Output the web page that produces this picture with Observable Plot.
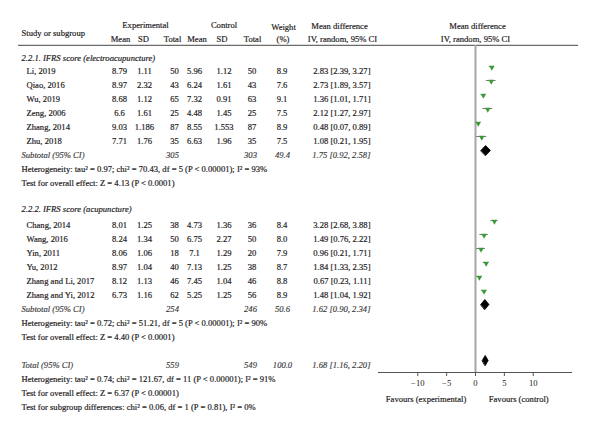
<!DOCTYPE html>
<html><head><meta charset="utf-8">
<script src="https://cdn.jsdelivr.net/npm/d3@7"></script>
<script src="https://cdn.jsdelivr.net/npm/@observablehq/plot@0.6"></script>
<style>body{margin:0;background:#fff;}</style>
</head><body><div id="chart"></div>
<script>
// ---------- data ----------
const g1Label = "2.2.1. IFRS score (electroacupuncture)";
const g1Studies = ["Li, 2019", "Qiao, 2016", "Wu, 2019", "Zeng, 2006", "Zhang, 2014", "Zhu, 2018"];
const g1ExpMean = [8.79, 8.97, 8.68, 6.6, 9.03, 7.71];
const g1ExpSD   = [1.11, 2.32, 1.12, 1.61, 1.186, 1.76];
const g1ExpN    = [50, 43, 65, 25, 87, 35];
const g1CtlMean = [5.96, 6.24, 7.32, 4.48, 8.55, 6.63];
const g1CtlSD   = [1.12, 1.61, 0.91, 1.45, 1.553, 1.96];
const g1CtlN    = [50, 43, 63, 25, 87, 35];
const g1Weight  = [8.9, 7.6, 9.1, 7.5, 8.9, 7.5];
const g1MD      = [2.83, 2.73, 1.36, 2.12, 0.48, 1.08];
const g1Lo      = [2.39, 1.89, 1.01, 1.27, 0.07, 0.21];
const g1Hi      = [3.27, 3.57, 1.71, 2.97, 0.89, 1.95];

const g2Label = "2.2.2. IFRS score (acupuncture)";
const g2Studies = ["Chang, 2014", "Wang, 2016", "Yin, 2011", "Yu, 2012", "Zhang and Li, 2017", "Zhang and Yi, 2012"];
const g2ExpMean = [8.01, 8.24, 8.06, 8.97, 8.12, 6.73];
const g2ExpSD   = [1.25, 1.34, 1.06, 1.04, 1.13, 1.16];
const g2ExpN    = [38, 50, 18, 40, 46, 62];
const g2CtlMean = [4.73, 6.75, 7.1, 7.13, 7.45, 5.25];
const g2CtlSD   = [1.36, 2.27, 1.29, 1.25, 1.04, 1.25];
const g2CtlN    = [36, 50, 20, 38, 46, 56];
const g2Weight  = [8.4, 8.0, 7.9, 8.7, 8.8, 8.9];
const g2MD      = [3.28, 1.49, 0.96, 1.84, 0.67, 1.48];
const g2Lo      = [2.68, 0.76, 0.21, 1.33, 0.23, 1.04];
const g2Hi      = [3.88, 2.22, 1.71, 2.35, 1.11, 1.92];

const pooledLabels = ["Subtotal (95% CI)", "Subtotal (95% CI)", "Total (95% CI)"];
const pooledExpN   = [305, 254, 559];
const pooledCtlN   = [303, 246, 549];
const pooledWeight = [49.4, 50.6, 100.0];
const pooledMD     = [1.75, 1.62, 1.68];
const pooledLo     = [0.92, 0.90, 1.16];
const pooledHi     = [2.58, 2.34, 2.20];

const g1Stats = ["Heterogeneity: tau² = 0.97; chi² = 70.43, df = 5 (P < 0.00001); I² = 93%",
                 "Test for overall effect: Z = 4.13 (P < 0.0001)"];
const g2Stats = ["Heterogeneity: tau² = 0.72; chi² = 51.21, df = 5 (P < 0.00001); I² = 90%",
                 "Test for overall effect: Z = 4.40 (P < 0.0001)"];
const totStats = ["Heterogeneity: tau² = 0.74; chi² = 121.67, df = 11 (P < 0.00001); I² = 91%",
                  "Test for overall effect: Z = 6.37 (P < 0.00001)",
                  "Test for subgroup differences: chi² = 0.06, df = 1 (P = 0.81), I² = 0%"];

const xTicks = [-10, -5, 0, 5, 10];
const favourLabels = ["Favours (experimental)", "Favours (control)"];

// ---------- layout (rows) ----------
const g1Rows = [0, 1, 2, 3, 4, 5];
const g2Rows = [11, 12, 13, 14, 15, 16];
const pooledRows = [6, 17, 21];
const groupHeaderRows = [-0.95, 9.85];
const statsRows = [7, 8, 18, 19, 22, 23, 24];

const f2 = d => d.toFixed(2);
const mdText = (m, l, h) => `${f2(m)} [${f2(l)}, ${f2(h)}]`;

const studies = [];
[[g1Studies, g1ExpMean, g1ExpSD, g1ExpN, g1CtlMean, g1CtlSD, g1CtlN, g1Weight, g1MD, g1Lo, g1Hi, g1Rows],
 [g2Studies, g2ExpMean, g2ExpSD, g2ExpN, g2CtlMean, g2CtlSD, g2CtlN, g2Weight, g2MD, g2Lo, g2Hi, g2Rows]]
.forEach(([s, em, es, en, cm, cs, cn, w, md, lo, hi, rows]) => {
  s.forEach((name, i) => studies.push({
    name, em: String(em[i]), es: String(es[i]), en: String(en[i]),
    cm: String(cm[i]), cs: String(cs[i]), cn: String(cn[i]),
    w: w[i].toFixed(1), md: md[i], lo: lo[i], hi: hi[i],
    ci: mdText(md[i], lo[i], hi[i]), row: rows[i]
  }));
});
const pooled = pooledLabels.map((label, i) => ({
  label, en: String(pooledExpN[i]), cn: String(pooledCtlN[i]), w: pooledWeight[i].toFixed(1),
  md: pooledMD[i], lo: pooledLo[i], hi: pooledHi[i],
  ci: mdText(pooledMD[i], pooledLo[i], pooledHi[i]), row: pooledRows[i]
}));
const groupHeaders = [g1Label, g2Label].map((label, i) => ({label, row: groupHeaderRows[i]}));
const stats = [...g1Stats, ...g2Stats, ...totStats].map((label, i) => ({label, row: statsRows[i]}));

// diamond polygons
const DH = 0.36; // half-height in row units
const diamonds = [];
pooled.forEach((p, i) => {
  diamonds.push({id: i, x: p.lo, y: p.row});
  diamonds.push({id: i, x: p.md, y: p.row - DH});
  diamonds.push({id: i, x: p.hi, y: p.row});
  diamonds.push({id: i, x: p.md, y: p.row + DH});
});

// ---------- drawing ----------
const FONT = "'Liberation Serif', 'Times New Roman', serif";
const FS = 8.6;
const INK = "#1c1a1b";
const X0 = 18;
const HEAD_LINE = -1.86;
const AXIS_ROW = 21.5;
const XMIN = -16.8, XMAX = 16.8;
const bold = {stroke: INK, strokeWidth: 0.18};

function col(data, text, px, anchor = "middle", extra = {}) {
  return Plot.text(data, {y: "row", text, frameAnchor: "left", dx: px - X0,
    textAnchor: anchor, fontSize: FS, fill: INK, ...bold, ...extra});
}
function head(label, px, row, anchor = "middle") {
  return Plot.text([label], {y: () => row, text: d => d, frameAnchor: "left", dx: px - X0,
    textAnchor: anchor, fontSize: FS, fill: INK, ...bold});
}
const it = {fontStyle: "italic"};
const pooledStyle = {fontStyle: "italic", fill: "#3a3a3a", stroke: "#3a3a3a", strokeWidth: 0.15};

const svg = Plot.plot({
  width: 600, height: 436,
  marginLeft: X0, marginRight: 22, marginTop: 10, marginBottom: 64,
  style: {fontFamily: FONT, background: "#fff", color: INK},
  x: {domain: [XMIN, XMAX], range: [378, 572]},
  y: {domain: [-1, 24], range: [57, 407], axis: null},
  marks: [
    // header
    head("Study or subgroup", 21, -2.75, "start"),
    head("Experimental", 145, -3.29),
    head("Control", 223.5, -3.29),
    head("Mean", 120, -2.29), head("SD", 143, -2.29), head("Total", 172, -2.29),
    head("Mean", 196.5, -2.29), head("SD", 221.5, -2.29), head("Total", 252, -2.29),
    head("Weight", 283, -3.14), head("(%)", 282.5, -2.29),
    head("Mean difference", 339, -3.21), head("IV, random, 95% CI", 342, -2.29),
    head("Mean difference", 477, -3.21), head("IV, random, 95% CI", 475, -2.29),
    Plot.ruleY([HEAD_LINE], {stroke: "#6b6b6b", strokeWidth: 1.2}),

    // zero line & axis line
    Plot.ruleX([0], {y1: HEAD_LINE, y2: AXIS_ROW, stroke: "#a6a6a6", strokeWidth: 2}),
    Plot.ruleY([AXIS_ROW], {x1: XMIN, x2: XMAX, stroke: "#555", strokeWidth: 1}),
    Plot.axisX({ticks: xTicks, tickFormat: d3.format(""), tickSize: 4, tickPadding: 3,
      fontSize: FS, stroke: "#555", anchor: "bottom"}),
    Plot.text(favourLabels.slice(0, 1), {x: () => -1.6, y: () => 23.38, text: d => d,
      textAnchor: "end", fontSize: FS, fill: INK, ...bold}),
    Plot.text(favourLabels.slice(1), {x: () => 2.3, y: () => 23.38, text: d => d,
      textAnchor: "start", fontSize: FS, fill: INK, ...bold}),

    // group headers
    col(groupHeaders, "label", 21, "start", it),
    // studies
    col(studies, "name", 26, "start"),
    col(studies, "em", 119), col(studies, "es", 144), col(studies, "en", 174),
    col(studies, "cm", 194), col(studies, "cs", 223.5), col(studies, "cn", 251.5),
    col(studies, "w", 281.5),
    col(studies, "ci", 370, "end"),
    // pooled rows
    col(pooled, "label", 21, "start", pooledStyle),
    col(pooled, "en", 172, "middle", pooledStyle),
    col(pooled, "cn", 250, "middle", pooledStyle),
    col(pooled, "w", 282, "middle", pooledStyle),
    col(pooled, "ci", 370, "end", pooledStyle),
    // stats
    col(stats, "label", 21, "start", {ariaLabel: "stats"}),

    // forest: CIs, point estimates, diamonds
    Plot.ruleY(studies, {y: "row", x1: "lo", x2: "hi", dy: -5, stroke: "#7a7a7a", strokeWidth: 1}),
    Plot.dot(studies, {x: "md", y: "row", dy: -4, symbol: "triangle", rotate: 180, r: 2.1,
      fill: "#3a9a3a", stroke: "none"}),
    Plot.line(diamonds, {x: "x", y: "y", z: "id", dy: -5, curve: "linear-closed",
      fill: "#000", stroke: "#000", strokeWidth: 0.8})
  ]
});

// italicise statistical symbols
d3.select(svg).selectAll('g[aria-label="stats"] text').each(function () {
  const s = this.textContent;
  const parts = s.split(/\b(df|P|Z|I)\b/);
  this.textContent = "";
  parts.forEach((p, i) => {
    if (!p) return;
    const t = document.createElementNS("http://www.w3.org/2000/svg", "tspan");
    t.textContent = p;
    if (i % 2 === 1) t.setAttribute("font-style", "italic");
    this.appendChild(t);
  });
});

document.getElementById("chart").appendChild(svg);
</script>
</body></html>
